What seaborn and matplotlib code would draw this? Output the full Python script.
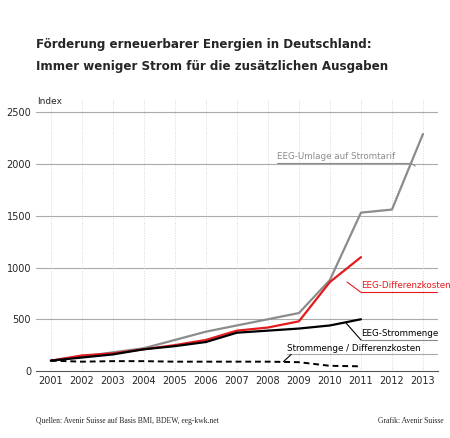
import matplotlib
matplotlib.use("Agg")
import matplotlib.pyplot as plt
import seaborn as sns

years = list(range(2001, 2014))
umlage = [100, 140, 180, 220, 300, 380, 440, 500, 560, 880, 1530, 1560, 2290]
diffkosten = [100, 150, 170, 210, 250, 300, 390, 420, 480, 860, 1100]
strommenge = [100, 130, 160, 210, 240, 280, 370, 390, 410, 440, 500]
ratio = [100, 90, 95, 95, 90, 90, 90, 90, 85, 50, 45]

sns.set_style("white")
plt.rcParams['font.family'] = ['DejaVu Sans']
fig = plt.figure(figsize=(4.5, 4.38), dpi=100)
ax = fig.add_axes([0.08, 0.153, 0.893, 0.619])

for y in range(500, 2501, 500):
    ax.axhline(y, color="#aaaaaa", lw=0.8, zorder=0)
for yr in years:
    ax.axvline(yr, color="#cccccc", lw=0.6, ls=(0, (1, 2)), zorder=0)

sns.lineplot(x=years, y=umlage, color="#8c8c8c", lw=1.6, ax=ax)
sns.lineplot(x=years[:11], y=diffkosten, color="#e41a1c", lw=1.6, ax=ax)
sns.lineplot(x=years[:11], y=strommenge, color="black", lw=1.6, ax=ax)
sns.lineplot(x=years[:11], y=ratio, color="black", lw=1.4, ls=(0, (3, 2)), ax=ax)

ax.set_xlim(2000.52, 2013.48)
ax.set_ylim(0, 2620)
ax.set_xticks(years)
ax.set_yticks(range(0, 2501, 500))
ax.tick_params(labelsize=7, length=0)
for s in ["top", "right", "left"]:
    ax.spines[s].set_visible(False)
ax.spines["bottom"].set_color("#555555")
ax.text(2000.55, 2560, "Index", fontsize=6.5, va="bottom")

fs = 6.3
ax.text(2008.3, 2030, "EEG-Umlage auf Stromtarif", color="#8c8c8c", fontsize=fs, va="bottom")
ax.plot([2008.3, 2012.6], [2010, 2010], color="#8c8c8c", lw=0.8)
ax.plot([2012.6, 2012.75], [2010, 1980], color="#8c8c8c", lw=0.8)

ax.text(2011.0, 780, "EEG-Differenzkosten", color="#e41a1c", fontsize=fs, va="bottom")
ax.plot([2011.0, 2013.45], [760, 760], color="#e41a1c", lw=0.8)
ax.plot([2010.55, 2011.0], [860, 760], color="#e41a1c", lw=0.8)

ax.text(2011.0, 320, "EEG-Strommenge", color="black", fontsize=fs, va="bottom")
ax.plot([2011.0, 2013.45], [300, 300], color="#888888", lw=0.8)
ax.plot([2010.5, 2011.0], [470, 300], color="black", lw=0.8)

ax.text(2008.6, 175, "Strommenge / Differenzkosten", color="black", fontsize=fs, va="bottom")
ax.plot([2008.6, 2013.45], [160, 160], color="#aaaaaa", lw=0.8)
ax.plot([2008.5, 2008.75], [90, 160], color="black", lw=0.8)

fig.text(0.08, 0.89, "Förderung erneuerbarer Energien in Deutschland:", fontsize=8.6, weight="bold")
fig.text(0.08, 0.84, "Immer weniger Strom für die zusätzlichen Ausgaben", fontsize=8.6, weight="bold")
fig.text(0.08, 0.035, "Quellen: Avenir Suisse auf Basis BMI, BDEW, eeg-kwk.net", fontsize=5.5, family="Liberation Serif")
fig.text(0.985, 0.035, "Grafik: Avenir Suisse", fontsize=5.5, ha="right", family="Liberation Serif")

fig.savefig("out.png", dpi=100)
